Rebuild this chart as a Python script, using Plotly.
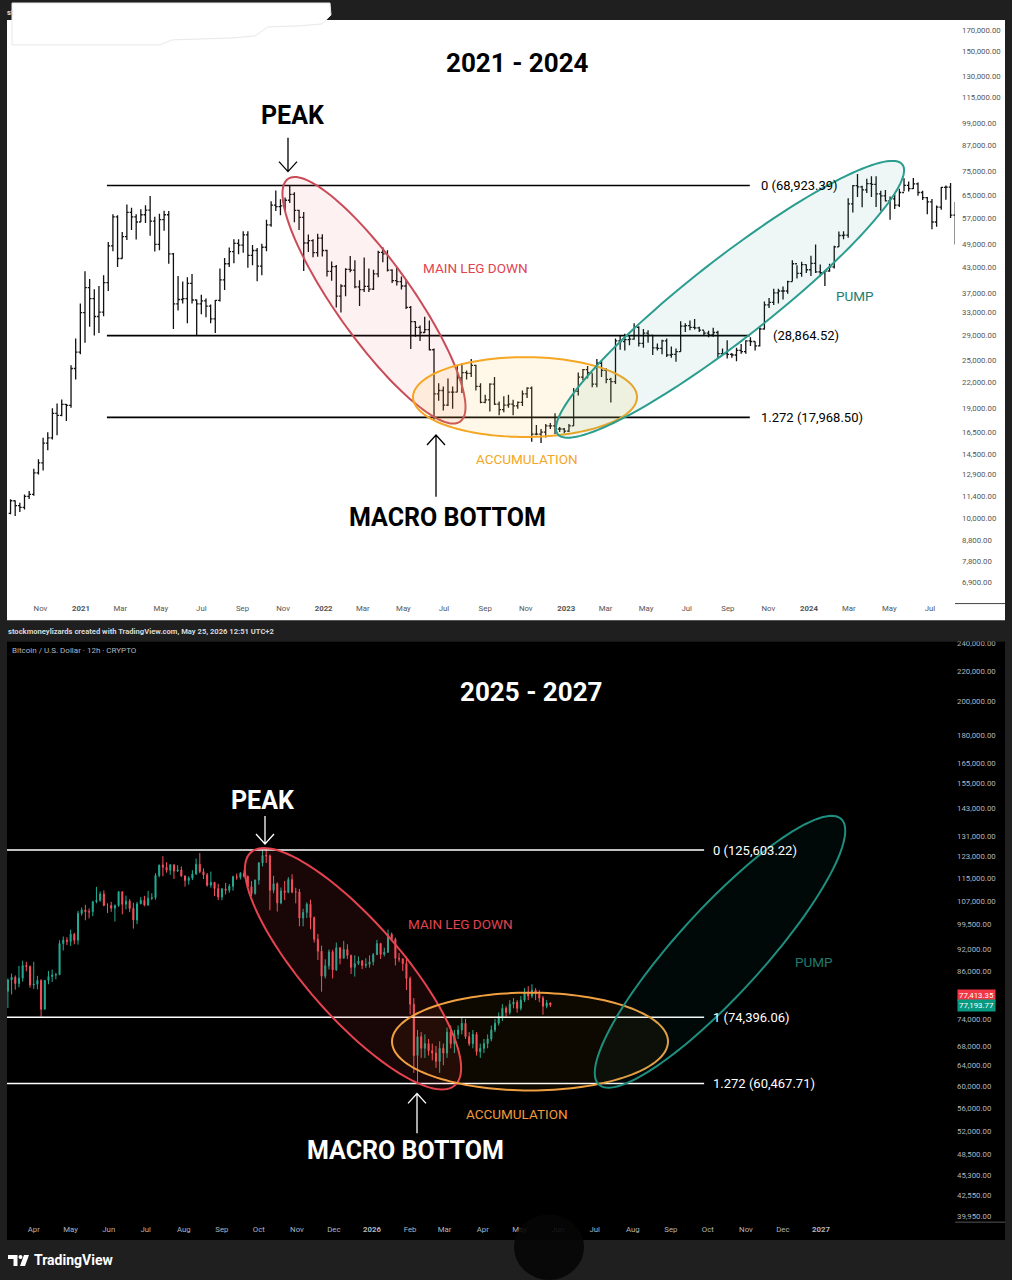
import numpy as np
import pandas as pd
import plotly.graph_objects as go

W, H = 1012, 1280

# ---------------- DATA ----------------
# Top panel: BTC/USD weekly bars (week starting Monday), Sep 2020 - Aug 2024
top_start = "2020-09-14"
top_open_first = 10300
top_close = [
    11080, 10770, 10670, 11370, 11500, 13030, 13800, 15480, 15960, 18400, 18180, 19370, 19270, 23860, 26250, 33000,
    38150, 35800, 32260, 33100, 39250, 48580, 57500, 45150, 51250, 59000, 57500, 55800, 58200, 59800, 56100, 49000,
    56600, 58200, 46400, 34700, 35600, 35800, 39100, 35500, 34700, 35300, 34250, 31800, 35400, 39900, 43800, 47000,
    49300, 48800, 51800, 46000, 47300, 43200, 48200, 54900, 61500, 61000, 61300, 63300, 65500, 59700, 57300, 49400,
    50100, 46700, 50800, 47300,
    41900, 43100, 36300, 38500, 42400, 42200, 38300, 37700, 38400, 37800, 41300, 46800, 46400, 42200, 39700, 39500,
    38500, 34000, 31300, 30300, 29400, 29900, 26600, 20600, 21000, 19300, 20800, 20800, 22600, 23300, 23200, 24300,
    21500, 19600, 19900, 21800, 19400, 18800, 19300, 19400, 19200, 19600, 20600, 21300, 16300, 16300, 16500, 17100,
    17100, 16800, 16800, 16600,
    17100, 20900, 22700, 23700, 23300, 21800, 24600, 23600, 22400, 22100, 28000, 27900, 28200, 28300, 30300, 27600,
    29300, 28900, 26900, 26800, 28000, 25800, 25900, 26300, 30500, 30600, 30300, 30200, 29800, 29300, 29000, 29400,
    26000, 26000, 25900, 25800, 26500, 26300, 28000, 27900, 27200, 30000, 34500, 35000, 37000, 37400, 37400, 39500,
    43800, 41400, 43600, 42300,
    43900, 41800, 41600, 42000, 43000, 48300, 51600, 51700, 62000, 68900, 68400, 67200, 69700, 69400, 65700, 64900,
    63100, 63800, 61500, 66200, 69000, 67700, 69600, 66200, 64300, 62700, 55800, 60800, 68200, 68300, 58100, 56000,
]
top_high = [
    11180, 11100, 10950, 11490, 11730, 13350, 14100, 15970, 16490, 18950, 19480, 19920, 19420, 24300, 28400, 34800,
    41950, 40100, 37800, 38500, 40950, 49700, 58350, 58000, 52650, 61800, 60600, 58400, 60100, 61500, 64850, 57500,
    58500, 59600, 59500, 46600, 40800, 39500, 40500, 41300, 35600, 36600, 35800, 34600, 35500, 42600, 45300, 48100,
    50500, 50500, 52900, 52900, 48800, 48000, 49200, 56500, 62900, 67000, 63700, 64300, 69000, 66300, 59900, 59100,
    51900, 50500, 52100, 52000,
    47500, 44400, 43500, 38900, 42650, 45800, 44700, 39800, 45400, 42600, 42300, 47200, 48200, 47400, 42400, 42900,
    40700, 40000, 34300, 31400, 30600, 32200, 31500, 26800, 21900, 21500, 22500, 21500, 24200, 24600, 23600, 25200,
    24400, 21900, 20500, 21900, 22700, 19700, 20300, 20500, 19900, 19700, 21000, 21400, 21500, 17200, 16800, 17300,
    17400, 18400, 17000, 16900,
    17300, 21300, 23300, 23800, 24200, 23200, 25200, 25000, 23900, 22600, 28400, 28900, 29200, 28800, 31000, 30500,
    30000, 29800, 29000, 27600, 28200, 28400, 27100, 26800, 31400, 31000, 31500, 31800, 30400, 29700, 29700, 30200,
    29700, 26800, 28100, 26100, 26900, 27500, 28100, 28600, 27900, 30300, 35200, 35900, 37900, 37900, 38400, 39700,
    44700, 43400, 44300, 43600,
    45900, 49000, 43600, 42200, 43800, 48600, 52800, 52900, 64000, 69200, 73750, 68900, 71700, 72700, 72800, 66900,
    67200, 64700, 65500, 67700, 71900, 70600, 72000, 70200, 66900, 64500, 63800, 61400, 68400, 69000, 70000, 62700,
]
top_low = [
    10250, 10150, 10380, 10530, 11200, 11400, 12900, 13200, 14850, 15800, 16200, 18100, 17600, 19000, 22400, 25900,
    27700, 30400, 28900, 29300, 32300, 37400, 47100, 43000, 45100, 50300, 53300, 50400, 55800, 55500, 51500, 47000,
    47400, 53000, 43800, 30000, 33400, 34800, 31000, 34800, 28800, 32700, 32100, 31000, 29300, 35200, 37600, 43000,
    43900, 46300, 46700, 42800, 43400, 39600, 41000, 47100, 54300, 59500, 58000, 59500, 62300, 55700, 53300, 42000,
    46900, 45500, 45600, 45700,
    40700, 39700, 34000, 33000, 36300, 41700, 38000, 34300, 37200, 37200, 37600, 40500, 44200, 41900, 39200, 38600,
    37700, 33700, 26700, 28700, 28000, 29300, 26500, 17600, 19800, 18700, 19200, 18900, 20800, 20700, 22400, 22700,
    21000, 19500, 19500, 18600, 19300, 18200, 18500, 19000, 18200, 18900, 19200, 20100, 15600, 16200, 15500, 16000,
    16800, 16300, 16500, 16400,
    16500, 17100, 20400, 22300, 22500, 21400, 21400, 22700, 21900, 19600, 21800, 26600, 26500, 27300, 28200, 27100,
    26900, 27700, 25800, 26500, 25900, 25500, 25400, 24800, 26300, 29500, 29800, 29900, 29500, 28900, 28600, 28700,
    25200, 25800, 25300, 25400, 24900, 26000, 26000, 27200, 26500, 27100, 29900, 33900, 34500, 34800, 35600, 36800,
    39500, 40200, 40600, 41500,
    40800, 41500, 40700, 38500, 41800, 42600, 48300, 50500, 50900, 59000, 64500, 60800, 66000, 64500, 60900, 59600,
    62800, 56500, 60200, 60900, 66700, 66600, 67600, 65000, 63400, 58400, 53500, 54300, 59900, 63500, 57100, 49000,
]

# Bottom panel: BTC/USD 3-day candles, Mar 2025 - May 2026
bot_start = "2025-03-10"
bot_open_first = 80700
bot_close = [
    83600, 84300, 82700, 84100, 87500, 87200, 82300, 82500, 83500, 76300, 83500, 84500, 84900, 85000, 93700, 94700,
    94300, 96500, 94700, 103000, 104100, 103500, 103500, 106800, 107300, 109400, 105600, 105600, 104700, 105600, 110200, 106000,
    107000, 104600, 100900, 106100, 107300, 105700, 108000, 108200, 116000, 119800, 119000, 117900, 119900, 117600, 118000, 115800,
    114200, 115000, 116500, 120100, 117400, 116200, 112500, 113500, 111300, 108400, 111200, 110700, 112100, 115500, 115300, 116800,
    115700, 112000, 109600, 114300, 120600, 123500, 123300, 110700, 113000, 106400, 110500, 110000, 114500, 110100, 110100, 101500,
    103300, 106000, 101600, 95000, 91500, 84600, 87400, 91300, 86300, 92500, 89500, 92000, 90300, 87000, 88000, 88700,
    87500, 87800, 88500, 90500, 93700, 90600, 91200, 96500, 95000, 89500, 89300, 88000, 84000, 77500, 66000, 70000,
    67500, 68500, 67000, 66500, 64800, 67500, 66500, 71000, 68500, 70500, 71500, 73000, 70000, 68500, 70500, 66800,
    67500, 68500, 69500, 71500, 73000, 74500, 76500, 75500, 77500, 78000, 76500, 78500, 80500, 79500, 81000, 80000,
    79000, 77000, 77800, 77300,
]
bot_high = [
    84000, 85300, 84800, 87400, 88800, 88500, 87500, 88500, 84700, 83800, 83600, 86000, 86400, 85500, 94700, 95800,
    95600, 97900, 96900, 103800, 104900, 105800, 104600, 107100, 111900, 110300, 110700, 106300, 106800, 105900, 110400, 110300,
    108900, 107700, 106500, 106800, 108400, 108800, 110500, 109700, 116800, 120000, 123200, 120900, 120200, 120000, 119800, 119300,
    116000, 115700, 117900, 122300, 124400, 118600, 116900, 117400, 113600, 113000, 111500, 113300, 112900, 115900, 116700, 117200,
    117900, 115900, 114000, 114500, 121000, 125700, 126200, 123900, 115900, 113500, 111700, 114000, 115400, 116400, 111600, 111200,
    104500, 106600, 107500, 102000, 96600, 93100, 89200, 92000, 91900, 94000, 92500, 94500, 93500, 90500, 90300, 90000,
    89000, 89500, 90300, 91000, 94800, 93900, 92500, 97900, 97000, 95500, 91000, 89500, 90000, 84500, 79000, 71500,
    71000, 70500, 69500, 68500, 68000, 69000, 68500, 72000, 72500, 71500, 72500, 74500, 74000, 71000, 71500, 71000,
    68500, 69500, 70500, 72500, 74000, 75500, 77500, 77000, 78500, 79000, 78500, 79500, 81500, 82000, 82500, 81500,
    81000, 79500, 78500, 77900,
]
bot_low = [
    76600, 79900, 81100, 81700, 83200, 85900, 81600, 81300, 81200, 74500, 76200, 82500, 83100, 83800, 84900, 91700,
    93300, 93000, 93500, 93400, 102300, 100800, 101400, 102100, 106300, 106800, 105300, 103100, 103500, 100400, 105100, 102700,
    104300, 103400, 98200, 99600, 106000, 105300, 105500, 107400, 107500, 115300, 115700, 117000, 116200, 114700, 117300, 115500,
    112000, 112700, 114300, 116200, 116800, 114700, 112000, 111600, 108700, 107400, 107300, 109300, 109900, 110600, 114400, 114500,
    115200, 111600, 108700, 109200, 112700, 119300, 120600, 104000, 109700, 103600, 106000, 107400, 109700, 109700, 106300, 98900,
    98900, 101500, 98000, 94000, 89000, 80600, 84000, 86400, 84000, 86000, 87800, 89500, 89300, 85200, 84500, 87600,
    86500, 86800, 86900, 87500, 90500, 89300, 90000, 91000, 94500, 87500, 88500, 86000, 81000, 75000, 62500, 60500,
    65500, 65500, 66000, 65000, 63500, 62500, 64000, 65500, 67500, 66500, 69500, 70500, 69500, 68000, 67500, 66000,
    65500, 66500, 67500, 69000, 71000, 72500, 73500, 74500, 75000, 76500, 75500, 76000, 78000, 78500, 79000, 78500,
    78000, 75000, 76500, 76800,
]

# Levels
top_levels = [68923.39, 28864.52, 17968.50]
top_level_text = ["0 (68,923.39)", "(28,864.52)", "1.272 (17,968.50)"]
top_level_start, top_level_end = "2021-02-09", "2023-10-04"
bot_levels = [125603.22, 74396.06, 60467.71]
bot_level_text = ["0 (125,603.22)", "1 (74,396.06)", "1.272 (60,467.71)"]
bot_level_start, bot_level_end = "2025-03-01", "2026-09-28"

# Axis ticks
top_yticks = [170000, 150000, 130000, 115000, 99000, 87000, 75000, 65000, 57000, 49000, 43000, 37000, 33000,
              29000, 25000, 22000, 19000, 16500, 14500, 12900, 11400, 10000, 8800, 7800, 6900]
bot_yticks = [240000, 220000, 200000, 180000, 165000, 155000, 143000, 131000, 123000, 115000, 107000, 99500,
              92000, 86000, 74000, 68000, 64000, 60000, 56000, 52000, 48500, 45300, 42550, 39950]
top_xtick_dates = ["2020-11-01", "2021-01-01", "2021-03-01", "2021-05-01", "2021-07-01", "2021-09-01", "2021-11-01",
                   "2022-01-01", "2022-03-01", "2022-05-01", "2022-07-01", "2022-09-01", "2022-11-01",
                   "2023-01-01", "2023-03-01", "2023-05-01", "2023-07-01", "2023-09-01", "2023-11-01",
                   "2024-01-01", "2024-03-01", "2024-05-01", "2024-07-01"]
top_xtick_text = ["Nov", "2021", "Mar", "May", "Jul", "Sep", "Nov", "2022", "Mar", "May", "Jul", "Sep", "Nov",
                  "2023", "Mar", "May", "Jul", "Sep", "Nov", "2024", "Mar", "May", "Jul"]
bot_xtick_dates = ["2025-04-01", "2025-05-01", "2025-06-01", "2025-07-01", "2025-08-01", "2025-09-01", "2025-10-01",
                   "2025-11-01", "2025-12-01", "2026-01-01", "2026-02-01", "2026-03-01", "2026-04-01", "2026-05-01",
                   "2026-06-01", "2026-07-01", "2026-08-01", "2026-09-01", "2026-10-01", "2026-11-01", "2026-12-01",
                   "2027-01-01"]
bot_xtick_text = ["Apr", "May", "Jun", "Jul", "Aug", "Sep", "Oct", "Nov", "Dec", "2026", "Feb", "Mar", "Apr", "May",
                  "Jun", "Jul", "Aug", "Sep", "Oct", "Nov", "Dec", "2027"]

# ---------------- helpers ----------------
def px(x):
    return x / W


def py(y):
    return 1 - y / H


top_dates = pd.date_range(top_start, periods=len(top_close), freq="7D") + pd.Timedelta(days=3)
top_open = [top_open_first] + top_close[:-1]
bot_dates = pd.date_range(bot_start, periods=len(bot_close), freq="3D") + pd.Timedelta(days=1)
bot_open = [bot_open_first] + bot_close[:-1]

# pixel calibration of the two time axes
T0, T0x, Tppd = pd.Timestamp("2021-01-01"), 81, 0.6648
B0, B0x, Bppd = pd.Timestamp("2026-01-01"), 372, 1.2301


def tdate(x):
    return T0 + pd.Timedelta(days=(x - T0x) / Tppd)


def bdate(x):
    return B0 + pd.Timedelta(days=(x - B0x) / Bppd)


def tlog(y):
    return np.log10(top_levels[0]) + (183 - y) / 398.0


def blog(y):
    return np.log10(bot_levels[0]) + (849 - y) / 737.0


def fmt(v):
    return f"{v:,.2f}"


def ellipse_path(cx, cy, a, b, ang):
    t = np.linspace(0, 2 * np.pi, 145)
    th = np.radians(ang)
    xs = cx + a * np.cos(t) * np.cos(th) - b * np.sin(t) * np.sin(th)
    ys = cy + a * np.cos(t) * np.sin(th) + b * np.sin(t) * np.cos(th)
    return "M " + " L ".join(f"{px(x):.5f},{py(y):.5f}" for x, y in zip(xs, ys)) + " Z"


def arrow_path(x, ytail, ytip, hw=9, hh=10):
    d = 1 if ytip > ytail else -1
    p = f"M {px(x):.5f},{py(ytail):.5f} L {px(x):.5f},{py(ytip):.5f} "
    p += f"M {px(x - hw):.5f},{py(ytip - d * hh):.5f} L {px(x):.5f},{py(ytip):.5f} L {px(x + hw):.5f},{py(ytip - d * hh):.5f}"
    return p


# ---------------- figure ----------------
fig = go.Figure()

fig.add_trace(go.Ohlc(
    x=top_dates, open=top_open, high=top_high, low=top_low, close=top_close,
    xaxis="x", yaxis="y", tickwidth=0.4,
    increasing=dict(line=dict(color="#111111", width=1.3)),
    decreasing=dict(line=dict(color="#111111", width=1.3)),
    hoverinfo="skip"))

fig.add_trace(go.Candlestick(
    x=bot_dates, open=bot_open, high=bot_high, low=bot_low, close=bot_close,
    xaxis="x2", yaxis="y2", whiskerwidth=0,
    increasing=dict(line=dict(color="#22ab94", width=1), fillcolor="#22ab94"),
    decreasing=dict(line=dict(color="#f7525f", width=1), fillcolor="#f7525f"),
    hoverinfo="skip"))

for v in top_levels:
    fig.add_trace(go.Scatter(x=[top_level_start, top_level_end], y=[v, v], mode="lines",
                             line=dict(color="#000000", width=1.6), xaxis="x", yaxis="y", hoverinfo="skip"))
for v in bot_levels:
    fig.add_trace(go.Scatter(x=[bot_level_start, bot_level_end], y=[v, v], mode="lines",
                             line=dict(color="#ffffff", width=1.6), xaxis="x2", yaxis="y2", hoverinfo="skip"))

tickfont_top = dict(family="Roboto", size=7.8, color="#555555")
tickfont_bot = dict(family="Roboto", size=7.8, color="#b2b5be")

fig.update_layout(
    width=W, height=H, margin=dict(l=0, r=0, t=0, b=0),
    paper_bgcolor="#1f1f1f", plot_bgcolor="rgba(0,0,0,0)",
    showlegend=False, boxgap=0.6, font=dict(family="Roboto"),
    xaxis=dict(domain=[px(7), px(955)], anchor="y", type="date",
               range=[tdate(7), tdate(955)], rangeslider=dict(visible=False),
               tickvals=top_xtick_dates,
               ticktext=[f"<b>{t}</b>" if t.isdigit() else t for t in top_xtick_text],
               tickfont=tickfont_top, showgrid=False, zeroline=False, showline=False, ticks="",
               fixedrange=True),
    yaxis=dict(domain=[py(601), py(17)], anchor="x", type="log", side="right",
               range=[tlog(601), tlog(17)], tickvals=top_yticks, ticktext=[fmt(v) for v in top_yticks],
               tickfont=tickfont_top, showgrid=False, zeroline=False, showline=False, ticks="",
               ticklabelstandoff=6, fixedrange=True),
    xaxis2=dict(domain=[px(7), px(950)], anchor="y2", type="date",
                range=[bdate(7), bdate(950)], rangeslider=dict(visible=False),
                tickvals=bot_xtick_dates,
                ticktext=[f"<b>{t}</b>" if t.isdigit() else t for t in bot_xtick_text],
                tickfont=tickfont_bot, showgrid=False, zeroline=False, showline=False, ticks="",
                fixedrange=True),
    yaxis2=dict(domain=[py(1223), py(640)], anchor="x2", type="log", side="right",
                range=[blog(1223), blog(640)], tickvals=bot_yticks, ticktext=[fmt(v) for v in bot_yticks],
                tickfont=tickfont_bot, showgrid=False, zeroline=False, showline=False, ticks="",
                ticklabelstandoff=6, fixedrange=True),
)

shapes = []
# panels
shapes.append(dict(type="rect", xref="paper", yref="paper", x0=px(7), x1=px(1005), y0=py(619), y1=py(17),
                   fillcolor="#ffffff", line=dict(width=0), layer="below"))
shapes.append(dict(type="rect", xref="paper", yref="paper", x0=px(7), x1=px(1005), y0=py(1240), y1=py(640),
                   fillcolor="#000000", line=dict(width=0), layer="below"))
# band between panels (clips the top price label of the lower panel)
shapes.append(dict(type="rect", xref="paper", yref="paper", x0=px(0), x1=px(1012), y0=py(640), y1=py(619),
                   fillcolor="#1f1f1f", line=dict(width=0), layer="above"))
# top-left white smudge
smudge = [(12, 0), (330, 0), (331, 12), (322, 21), (298, 23), (268, 24), (255, 33), (232, 35), (172, 37),
          (160, 42), (12, 42)]
shapes.append(dict(type="path", xref="paper", yref="paper",
                   path="M " + " L ".join(f"{px(a):.5f},{py(b):.5f}" for a, b in smudge) + " Z",
                   fillcolor="#ffffff", line=dict(color="#e8e8e8", width=1), layer="above"))
# price-scale separators
shapes.append(dict(type="line", xref="paper", yref="paper", x0=px(955), x1=px(1005), y0=py(602), y1=py(602),
                   line=dict(color="#444444", width=1), layer="above"))
shapes.append(dict(type="line", xref="paper", yref="paper", x0=px(955), x1=px(1005), y0=py(1222), y1=py(1222),
                   line=dict(color="#555555", width=1), layer="above"))

# ellipses (cx, cy, a, b, angle, line colour, fill)
ellipses = [
    (374, 298, 149, 38, 54.7, "#c94b57", "rgba(242,54,69,0.07)"),
    (525, 395, 112, 40, 0, "#f5a623", "rgba(255,200,80,0.13)"),
    (730, 297, 219, 40, -38.1, "#2a9d8f", "rgba(42,157,143,0.08)"),
    (353, 968, 155, 48, 48.9, "#e5434f", "rgba(242,54,69,0.10)"),
    (530, 1041, 138, 49, 0, "#f0a040", "rgba(255,152,0,0.05)"),
    (720, 951, 180, 43, -47.7, "#1e8f7e", "rgba(8,153,129,0.06)"),
]
for cx, cy, a, b, ang, lc, fc in ellipses:
    shapes.append(dict(type="path", xref="paper", yref="paper", path=ellipse_path(cx, cy, a, b, ang),
                       line=dict(color=lc, width=2), fillcolor=fc, layer="above"))

# arrows
for x, yt, yp, col in [(288, 135, 169, "#000000"), (436, 495, 433, "#000000"),
                       (265, 815, 843, "#ffffff"), (417, 1133, 1093, "#ffffff")]:
    shapes.append(dict(type="path", xref="paper", yref="paper", path=arrow_path(x, yt, yp),
                       line=dict(color=col, width=1.3), layer="above"))

# blurred dark blob over the lower time axis
shapes.append(dict(type="circle", xref="paper", yref="paper", x0=px(514), x1=px(584), y0=py(1280), y1=py(1214),
                   fillcolor="rgba(6,6,6,0.9)", line=dict(width=0), layer="above"))

# TradingView logo
shapes.append(dict(type="path", xref="paper", yref="paper",
                   path=f"M {px(8)},{py(1255)} L {px(17.5)},{py(1255)} L {px(17.5)},{py(1266)} L {px(13.5)},{py(1266)} "
                        f"L {px(13.5)},{py(1259)} L {px(8)},{py(1259)} Z",
                   fillcolor="#ffffff", line=dict(width=0), layer="above"))
shapes.append(dict(type="circle", xref="paper", yref="paper", x0=px(18.5), x1=px(22.5), y0=py(1259), y1=py(1255),
                   fillcolor="#ffffff", line=dict(width=0), layer="above"))
shapes.append(dict(type="path", xref="paper", yref="paper",
                   path=f"M {px(24)},{py(1255)} L {px(29)},{py(1255)} L {px(25)},{py(1266)} L {px(20)},{py(1266)} Z",
                   fillcolor="#ffffff", line=dict(width=0), layer="above"))

fig.update_layout(shapes=shapes)

ann = []


def txt(text, x, y, size, color, bold=False, xanchor="center", family="Roboto"):
    ann.append(dict(text=f"<b>{text}</b>" if bold else text, x=px(x), y=py(y), xref="paper", yref="paper",
                    showarrow=False, xanchor=xanchor, yanchor="middle",
                    font=dict(family=family, size=size, color=color)))


txt("2021 - 2024", 517, 60, 26, "#000000", True)
txt("PEAK", 293, 113, 25, "#000000", True)
txt("MACRO BOTTOM", 447, 516, 25, "#000000", True)
txt("MAIN LEG DOWN", 475, 266, 13.5, "#e04450")
txt("PUMP", 855, 294, 13.5, "#1e7d70")
txt("ACCUMULATION", 527, 457, 13.5, "#f5a623")

txt("2025 - 2027", 531, 691, 26, "#ffffff", True)
txt("PEAK", 263, 799, 25, "#ffffff", True)
txt("MACRO BOTTOM", 405, 1150, 25, "#ffffff", True)
txt("MAIN LEG DOWN", 460, 923, 13.5, "#e04450")
txt("PUMP", 814, 961, 13.5, "#1f7a6c")
txt("ACCUMULATION", 517, 1114, 13.5, "#f09a3e")

txt("st", 5, 10, 7.6, "#e0e0e0", True, "left")
txt("stockmoneylizards created with TradingView.com, May 25, 2026 12:51 UTC+2", 6, 630, 7.6, "#d8d8d8", True, "left")
txt("Bitcoin / U.S. Dollar · 12h · CRYPTO", 10, 649, 8, "#b2b5be", False, "left")
txt("TradingView", 32, 1260, 14, "#ffffff", True, "left")

# level labels anchored on the price axes
for v, t, xs in zip(top_levels, top_level_text, [9, 21, 9]):
    ann.append(dict(text=t, x=top_level_end, y=np.log10(v), xref="x", yref="y", showarrow=False,
                    xanchor="left", yanchor="middle", xshift=xs, font=dict(family="Roboto", size=13, color="#000000")))
for v, t in zip(bot_levels, bot_level_text):
    ann.append(dict(text=t, x=bot_level_end, y=np.log10(v), xref="x2", yref="y2", showarrow=False,
                    xanchor="left", yanchor="middle", xshift=7, font=dict(family="Roboto", size=13, color="#ffffff")))

# last-price labels
for t, y, bg in [("77,413.35", 995, "#f23645"), ("77,193.77", 1005, "#089981")]:
    ann.append(dict(text=t, x=px(957), y=py(y), xref="paper", yref="paper", showarrow=False, xanchor="left",
                    yanchor="middle", bgcolor=bg, borderpad=1, font=dict(family="Roboto", size=7.8, color="#ffffff")))

fig.update_layout(annotations=ann)

page_fix = ("document.body.style.margin='0';document.body.style.padding='0';"
            "document.body.style.overflow='hidden';document.body.style.background='#1f1f1f';"
            "document.documentElement.style.background='#1f1f1f';")
fig.write_html("out.html", post_script=page_fix, config={"displayModeBar": False, "staticPlot": True})
